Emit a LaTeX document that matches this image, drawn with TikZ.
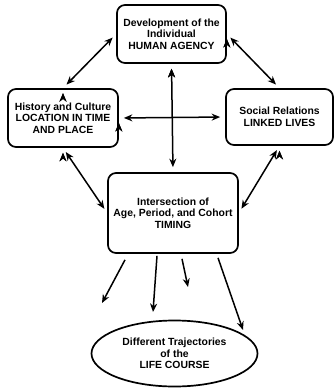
\documentclass[tikz,border=0pt]{standalone}
\usepackage{fontspec}
\setmainfont{Liberation Sans}
\usetikzlibrary{arrows.meta,shapes.geometric}

\begin{document}
\begin{tikzpicture}[x=1pt,y=-1pt,line width=1.5pt,>={Stealth[length=8.5pt,width=7pt]},
  every node/.style={font=\bfseries\fontsize{10.4}{11.5}\selectfont,align=center,inner sep=0pt},
  box/.style={draw,rounded corners=8pt,line width=1.7pt},
  link/.style={<->,shorten >=5pt,shorten <=5pt}]
  \useasboundingbox (0,0) rectangle (334,388);
  \node[box,minimum width=109pt,minimum height=58pt] (agency) at (171.5,34) {Development of the\\Individual\\HUMAN AGENCY};
  \node[box,minimum width=110pt,minimum height=58pt] (location) at (63,118) {History and Culture\\LOCATION IN TIME\\AND PLACE};
  \node[box,minimum width=107pt,minimum height=56pt] (linked) at (279.5,117) {Social Relations\\LINKED LIVES};
  \node[box,minimum width=130pt,minimum height=80pt] (timing) at (173,213) {Intersection of\\Age, Period, and Cohort\\TIMING};
  \node[draw,ellipse,line width=1.7pt,minimum width=166pt,minimum height=66pt] (course) at (174.5,353.5) {Different Trajectories\\of the\\LIFE COURSE};
  \coordinate (end1) at (102,303);
  \coordinate (end2) at (153,312);
  \coordinate (end3) at (188,287);
  \coordinate (end4) at (243,330);
  \draw[link] (location.north) edge (agency.west);
  \draw[link] (agency.east)    edge (linked.north);
  \draw[link] (agency.south)   edge (timing.north);
  \draw[link] (location.east)  edge (linked.west);
  \draw[link] (location.south) edge (timing.west);
  \draw[link] (linked.south)   edge (timing.east);
  \draw[->] ([xshift=-48pt,yshift=-6pt]timing.south) -- (end1);
  \draw[->] ([xshift=-16pt,yshift=-2pt]timing.south) -- (end2);
  \draw[->] ([xshift=9pt,yshift=-5pt]timing.south)   -- (end3);
  \draw[->] ([xshift=45pt,yshift=-4pt]timing.south)  -- (end4);
\end{tikzpicture}
\end{document}
